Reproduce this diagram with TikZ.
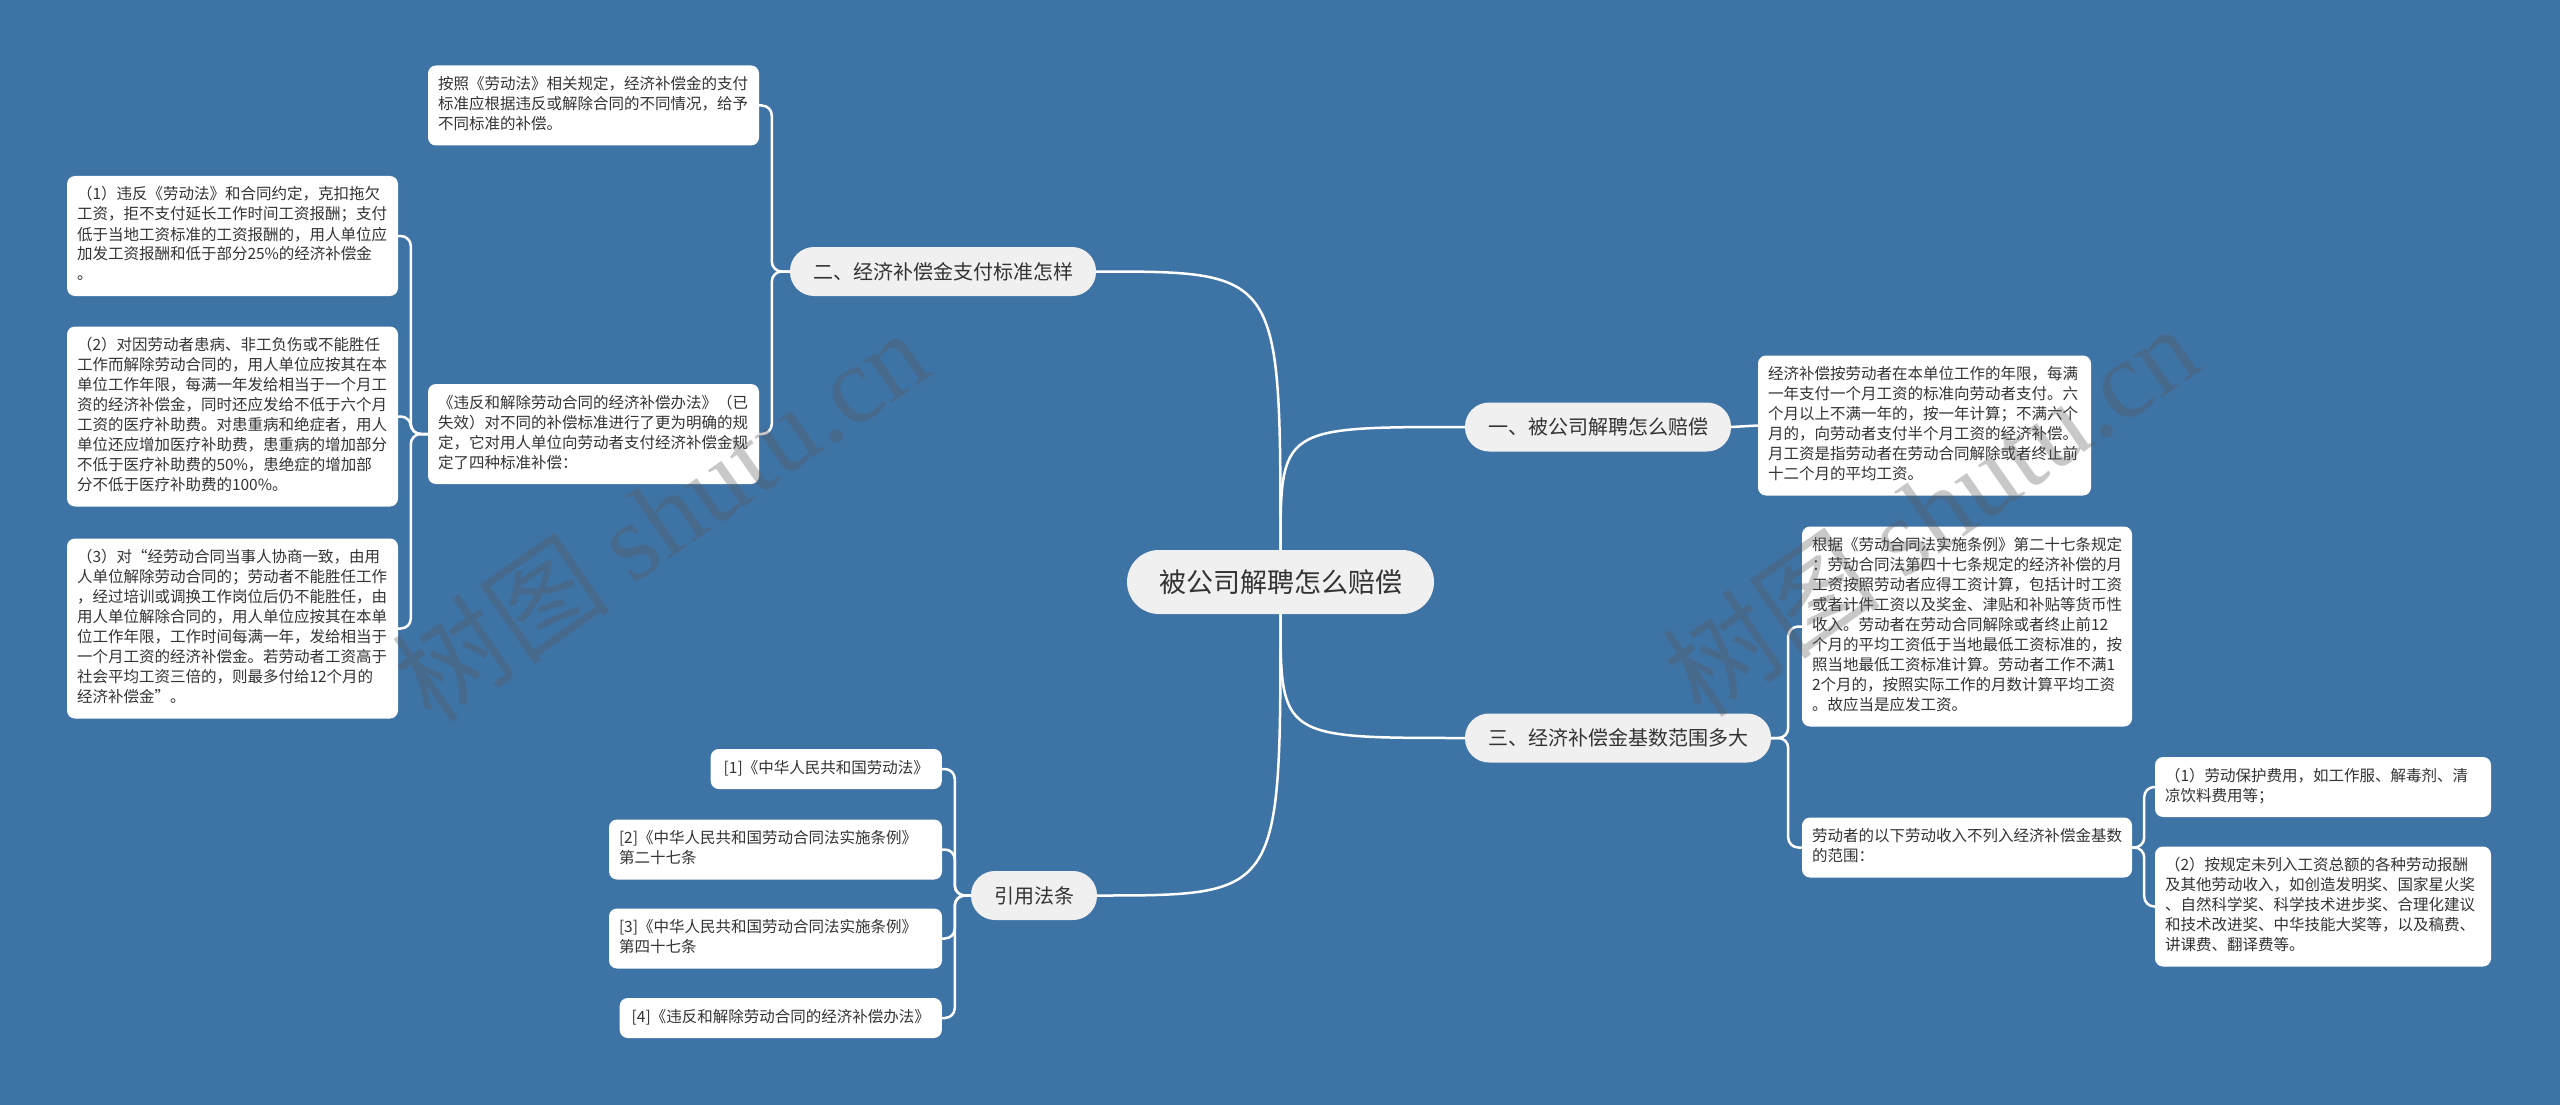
\documentclass[tikz,border=0pt]{standalone}
\usepackage{fontspec}
\setmainfont{Noto Sans CJK SC}
\newfontfamily\wmlatin{Liberation Serif}

\definecolor{bgblue}{HTML}{3E73A6}
\definecolor{pillgray}{HTML}{F0F0F0}
\definecolor{textgray}{HTML}{333333}
\definecolor{wmgray}{HTML}{5A5A5A}

\newcommand{\leaffont}{\fontsize{15.5}{20}\selectfont}

\begin{document}
\begin{tikzpicture}[x=1pt, y=-1pt,
    conn/.style={draw=white, line width=2.5pt},
    leaf/.style={fill=white, rounded corners=8pt, inner xsep=10pt, inner ysep=10pt,
      align=left, text=textgray, font=\leaffont,
      execute at begin node=\strut, execute at end node=\strut},
    branch/.style={fill=pillgray, rounded corners=24pt, minimum height=49pt,
      inner xsep=23pt, text=textgray, font=\fontsize{20}{24}\selectfont},
    center/.style={fill=pillgray, rounded corners=32pt, minimum height=64pt,
      inner xsep=32pt, text=textgray, font=\fontsize{27}{32}\selectfont},
    wm/.style={text=wmgray, text opacity=0.33, font=\fontsize{110}{116}\selectfont}]

    % 背景
    \fill [bgblue] (0,0) rectangle (2560,1105);
    \useasboundingbox (0,0) rectangle (2560,1105);

    % 中心
    \node [center] (root) at (1280.5,582) {被公司解聘怎么赔偿};

    % 分支
    \node [branch] (b1) at (1598,427) {一、被公司解聘怎么赔偿};
    \node [branch] (b2) at (943,271.5) {二、经济补偿金支付标准怎样};
    \node [branch] (b3) at (1618,738) {三、经济补偿金基数范围多大};
    \node [branch] (b4) at (1034,895.5) {引用法条};

    % 一
    \node [leaf, text width=313pt] (l1) at (1924.5,425.5) {经济补偿按劳动者在本单位工作的年限，每满\\一年支付一个月工资的标准向劳动者支付。六\\个月以上不满一年的，按一年计算；不满六个\\月的，向劳动者支付半个月工资的经济补偿。\\月工资是指劳动者在劳动合同解除或者终止前\\十二个月的平均工资。};

    % 二
    \node [leaf, text width=311pt] (l2a) at (593.5,105.5) {按照《劳动法》相关规定，经济补偿金的支付\\标准应根据违反或解除合同的不同情况，给予\\不同标准的补偿。};
    \node [leaf, text width=311pt] (l2b) at (593.5,434) {《违反和解除劳动合同的经济补偿办法》（已\\失效）对不同的补偿标准进行了更为明确的规\\定，它对用人单位向劳动者支付经济补偿金规\\定了四种标准补偿：};
    \node [leaf, text width=311pt] (s1) at (232.5,236) {（1）违反《劳动法》和合同约定，克扣拖欠\\工资，拒不支付延长工作时间工资报酬；支付\\低于当地工资标准的工资报酬的，用人单位应\\加发工资报酬和低于部分25\%的经济补偿金\\。};
    \node [leaf, text width=311pt] (s2) at (232.5,416.5) {（2）对因劳动者患病、非工负伤或不能胜任\\工作而解除劳动合同的，用人单位应按其在本\\单位工作年限，每满一年发给相当于一个月工\\资的经济补偿金，同时还应发给不低于六个月\\工资的医疗补助费。对患重病和绝症者，用人\\单位还应增加医疗补助费，患重病的增加部分\\不低于医疗补助费的50\%，患绝症的增加部\\分不低于医疗补助费的100\%。};
    \node [leaf, text width=311pt] (s3) at (232.5,628.5) {（3）对“经劳动合同当事人协商一致，由用\\人单位解除劳动合同的；劳动者不能胜任工作\\，经过培训或调换工作岗位后仍不能胜任，由\\用人单位解除合同的，用人单位应按其在本单\\位工作年限，工作时间每满一年，发给相当于\\一个月工资的经济补偿金。若劳动者工资高于\\社会平均工资三倍的，则最多付给12个月的\\经济补偿金”。};

    % 三
    \node [leaf, text width=310pt] (l3a) at (1967,626.5) {根据《劳动合同法实施条例》第二十七条规定\\：劳动合同法第四十七条规定的经济补偿的月\\工资按照劳动者应得工资计算，包括计时工资\\或者计件工资以及奖金、津贴和补贴等货币性\\收入。劳动者在劳动合同解除或者终止前12\\个月的平均工资低于当地最低工资标准的，按\\照当地最低工资标准计算。劳动者工作不满1\\2个月的，按照实际工作的月数计算平均工资\\。故应当是应发工资。};
    \node [leaf, text width=310pt] (l3b) at (1967,847.5) {劳动者的以下劳动收入不列入经济补偿金基数\\的范围：};
    \node [leaf, text width=316pt] (t1) at (2323,787) {（1）劳动保护费用，如工作服、解毒剂、清\\凉饮料费用等；};
    \node [leaf, text width=316pt] (t2) at (2323,906.5) {（2）按规定未列入工资总额的各种劳动报酬\\及其他劳动收入，如创造发明奖、国家星火奖\\、自然科学奖、科学技术进步奖、合理化建议\\和技术改进奖、中华技能大奖等，以及稿费、\\讲课费、翻译费等。};

    % 引用法条
    \node [leaf, inner xsep=13pt, anchor=east] (r1) at (942,769) {[1]《中华人民共和国劳动法》};
    \node [leaf, text width=313pt] (r2) at (775.5,849.5) {[2]《中华人民共和国劳动合同法实施条例》\\第二十七条};
    \node [leaf, text width=313pt] (r3) at (775.5,938.5) {[3]《中华人民共和国劳动合同法实施条例》\\第四十七条};
    \node [leaf, inner xsep=12pt, anchor=east] (r4) at (942,1018) {[4]《违反和解除劳动合同的经济补偿办法》};

    % 连线
    \draw [conn] (root.north) .. controls (root.north |- b1.west) .. (b1.west);
    \draw [conn] (root.north) .. controls (root.north |- b2.east) .. (b2.east);
    \draw [conn] (root.south) .. controls (root.south |- b3.west) .. (b3.west);
    \draw [conn] (root.south) .. controls (root.south |- b4.east) .. (b4.east);

    \draw [conn] (b1.east) -- (l1.west);

    \draw [conn, rounded corners=10pt] (b2.west) -- ++(-18,0) |- (l2a.east);
    \draw [conn, rounded corners=10pt] (b2.west) -- ++(-18,0) |- (l2b.east);
    \foreach \s in {s1,s2,s3}
      \draw [conn, rounded corners=10pt] (l2b.west) -- ++(-17,0) |- (\s.east);

    \draw [conn, rounded corners=10pt] (b3.east) -- ++(17,0) |- (l3a.west);
    \draw [conn, rounded corners=10pt] (b3.east) -- ++(17,0) |- (l3b.west);
    \draw [conn, rounded corners=10pt] (l3b.east) -- ++(12,0) |- (t1.west);
    \draw [conn, rounded corners=10pt] (l3b.east) -- ++(12,0) |- (t2.west);

    \foreach \r in {r1,r2,r3,r4}
      \draw [conn, rounded corners=10pt] (b4.west) -- ++(-16,0) |- (\r.east);

    % 水印
    \node [wm, rotate=35] (wm1) at (660,515) {树图 {\wmlatin shutu.cn}};
    \node [wm, rotate=35] (wm2) at (1930,510) {树图 {\wmlatin shutu.cn}};

\end{tikzpicture}
\end{document}
